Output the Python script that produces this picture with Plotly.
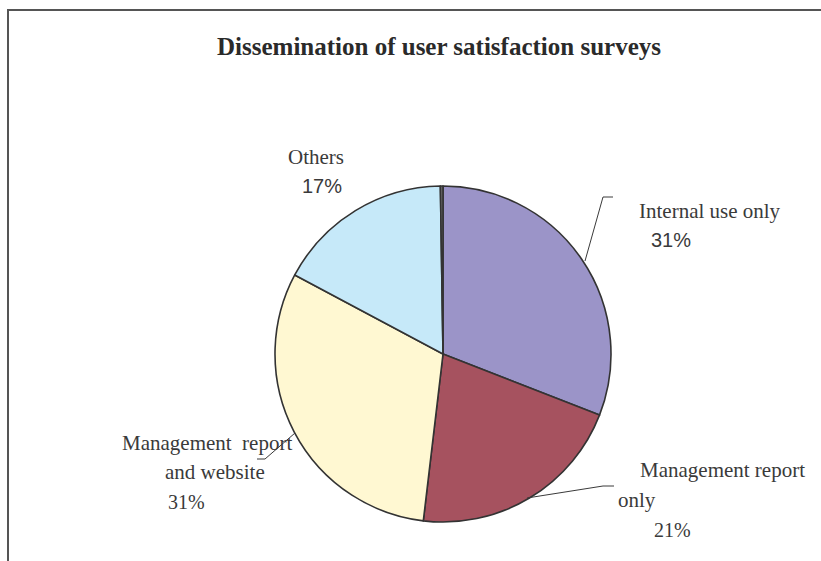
import plotly.graph_objects as go

W, H = 821, 561

# Survey results, clockwise from 12 o'clock
categories = ["Internal use only", "Management report only",
              "Management report and website", "Others", ""]
display_names = ["Internal use only", "Management report<br>only",
                 "Management  report<br>and website", "Others", ""]
values = [31, 21, 31, 17, 0.25]
colors = ["#9B94C8", "#A6525F", "#FFF8D2", "#C6E9F9", "#6E6E6E"]

title_text = "Dissemination of user satisfaction surveys"


def px_x(x):
    return x / W


def px_y(y):
    return 1 - y / H


fig = go.Figure(go.Pie(
    labels=categories,
    values=values,
    sort=False,
    direction="clockwise",
    rotation=0,
    marker=dict(colors=colors, line=dict(color="#333333", width=1.6)),
    textinfo="none",
    hoverinfo="label+value",
    domain=dict(x=[px_x(275), px_x(611)], y=[px_y(522), px_y(186)]),
))

serif = "Liberation Serif, Times New Roman, serif"
sans = "Liberation Sans, Arial, sans-serif"
txt = "#3a3a3a"

# (name position, percent position, percent font) per labelled slice
label_pos = [
    ((710, 211), (671, 240), sans),
    ((722, 470, 637, 500), (672, 530), serif),
    ((207, 443, 215, 472), (186, 502), serif),
    ((316, 157), (322, 186), sans),
]

annotations = [dict(
    text=f"<b>{title_text}</b>", x=px_x(439), y=px_y(47),
    xref="paper", yref="paper", showarrow=False,
    font=dict(family=serif, size=25, color="#2a2a2a"),
    xanchor="center", yanchor="middle")]

for i, (npos, ppos, pfont) in enumerate(label_pos):
    parts = display_names[i].split("<br>")
    if len(npos) == 2:
        lines = [(parts[0], npos)]
    else:
        lines = [(parts[0], npos[:2]), (parts[1], npos[2:])]
    for t, (x, y) in lines:
        annotations.append(dict(
            text=t, x=px_x(x), y=px_y(y), xref="paper", yref="paper",
            showarrow=False, xanchor="center", yanchor="middle",
            font=dict(family=serif, size=21, color=txt)))
    annotations.append(dict(
        text=f"{values[i]:g}%", x=px_x(ppos[0]), y=px_y(ppos[1]),
        xref="paper", yref="paper", showarrow=False,
        xanchor="center", yanchor="middle",
        font=dict(family=pfont, size=20, color=txt)))

# leader lines
leaders = [
    [(613, 197), (603, 197), (585, 261)],
    [(614, 486), (603, 486), (527, 498)],
    [(257, 459), (265, 459), (295, 433)],
]
shapes = []
for pts in leaders:
    path = "M " + " L ".join(f"{px_x(x)},{px_y(y)}" for x, y in pts)
    shapes.append(dict(type="path", path=path, xref="paper", yref="paper",
                       line=dict(color="#3a3a3a", width=1)))

# chart-area frame running off the right and bottom edges
shapes.append(dict(type="rect", xref="paper", yref="paper",
                   x0=px_x(8), x1=px_x(W + 10), y0=px_y(H + 10), y1=px_y(10),
                   line=dict(color="#555555", width=2), fillcolor="rgba(0,0,0,0)"))

fig.update_layout(
    width=W, height=H,
    margin=dict(l=0, r=0, t=0, b=0),
    paper_bgcolor="white", plot_bgcolor="white",
    showlegend=False,
    annotations=annotations,
    shapes=shapes,
)

fig.write_html("out.html")
